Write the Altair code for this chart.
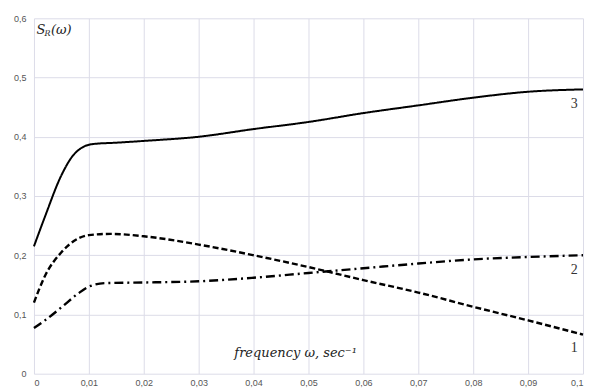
import altair as alt
import pandas as pd

# Curve 1 (dashed)
x1 = [0, 0.002, 0.005, 0.008, 0.010, 0.014, 0.020, 0.030, 0.040, 0.050, 0.060, 0.070, 0.080, 0.090, 0.100]
y1 = [0.120, 0.165, 0.205, 0.228, 0.234, 0.236, 0.232, 0.218, 0.200, 0.180, 0.158, 0.137, 0.113, 0.090, 0.066]
# Curve 2 (dash-dot)
x2 = [0, 0.002, 0.005, 0.008, 0.010, 0.013, 0.020, 0.030, 0.040, 0.050, 0.060, 0.070, 0.080, 0.090, 0.100]
y2 = [0.077, 0.090, 0.112, 0.135, 0.147, 0.153, 0.154, 0.156, 0.162, 0.170, 0.178, 0.186, 0.193, 0.197, 0.200]
# Curve 3 (solid)
x3 = [0, 0.002, 0.005, 0.007, 0.009, 0.011, 0.015, 0.020, 0.030, 0.040, 0.050, 0.060, 0.070, 0.080, 0.090, 0.100]
y3 = [0.215, 0.265, 0.335, 0.367, 0.383, 0.388, 0.390, 0.393, 0.400, 0.413, 0.425, 0.440, 0.453, 0.466, 0.476, 0.480]

x_ticks = [0, 0.01, 0.02, 0.03, 0.04, 0.05, 0.06, 0.07, 0.08, 0.09, 0.1]
y_ticks = [0, 0.1, 0.2, 0.3, 0.4, 0.5, 0.6]

curve_names = ["1", "2", "3"]
label_x = [0.0984, 0.0984, 0.0984]
label_y = [0.044, 0.175, 0.455]

rows = []
for name, xs, ys in (("1", x1, y1), ("2", x2, y2), ("3", x3, y3)):
    for a, b in zip(xs, ys):
        rows.append({"curve": name, "w": a, "s": b})
df = pd.DataFrame(rows)

W, H = 550, 356
xscale = alt.Scale(domain=[0, 0.1], nice=False, zero=False)
yscale = alt.Scale(domain=[0, 0.6], nice=False)

lbl_expr = "replace(datum.label, '.', ',')"
xaxis = alt.Axis(values=x_ticks, format="~g", labelExpr=lbl_expr, title=None,
                 grid=True, gridColor="#dcdce8", domain=False, ticks=False,
                 labelFont="Liberation Sans", labelFontSize=9, labelColor="#555555",
                 labelPadding=5)
yaxis = alt.Axis(values=y_ticks, format="~g", labelExpr=lbl_expr, title=None,
                 grid=True, gridColor="#dcdce8", domain=False, ticks=False,
                 labelFont="Liberation Sans", labelFontSize=9, labelColor="#555555",
                 labelPadding=8)

base = alt.Chart(df)

def curve(name, dash, width):
    return base.transform_filter(alt.datum.curve == name).mark_line(
        color="black", strokeWidth=width, strokeDash=dash, interpolate="monotone"
    ).encode(
        x=alt.X("w:Q", scale=xscale, axis=xaxis),
        y=alt.Y("s:Q", scale=yscale, axis=yaxis),
    )

c1 = curve("1", [6, 3], 2.4)
c2 = curve("2", [9, 4, 2, 4], 2.4)
c3 = curve("3", [1, 0], 2)

lab_df = pd.DataFrame({"name": curve_names, "w": label_x, "s": label_y})
labels = alt.Chart(lab_df).mark_text(
    font="Liberation Serif", fontSize=14, color="#333333", align="center", baseline="middle"
).encode(x=alt.X("w:Q", scale=xscale), y=alt.Y("s:Q", scale=yscale), text="name:N")

ann_df = pd.DataFrame({
    "t": ["frequency ω, sec⁻¹", "S", "R", "(ω)"],
    "w": [0.0365, 0.00045, 0.0019, 0.0031],
    "s": [0.035, 0.580, 0.573, 0.580],
    "size": [13, 13, 8, 13],
})
ann = alt.Chart(ann_df).mark_text(
    font="DejaVu Serif", fontStyle="italic", color="#222222", align="left", baseline="middle"
).encode(
    x=alt.X("w:Q", scale=xscale), y=alt.Y("s:Q", scale=yscale), text="t:N",
    size=alt.Size("size:Q", scale=None, legend=None),
)

chart = alt.layer(c3, c1, c2, labels, ann).properties(
    width=W, height=H,
    autosize=alt.AutoSizeParams(type="none"),
    padding={"left": 26, "top": 10, "right": 4, "bottom": 16},
    background="white",
).configure_view(stroke=None)

chart.save("out.html", embed_options={"renderer": "svg", "actions": False})
